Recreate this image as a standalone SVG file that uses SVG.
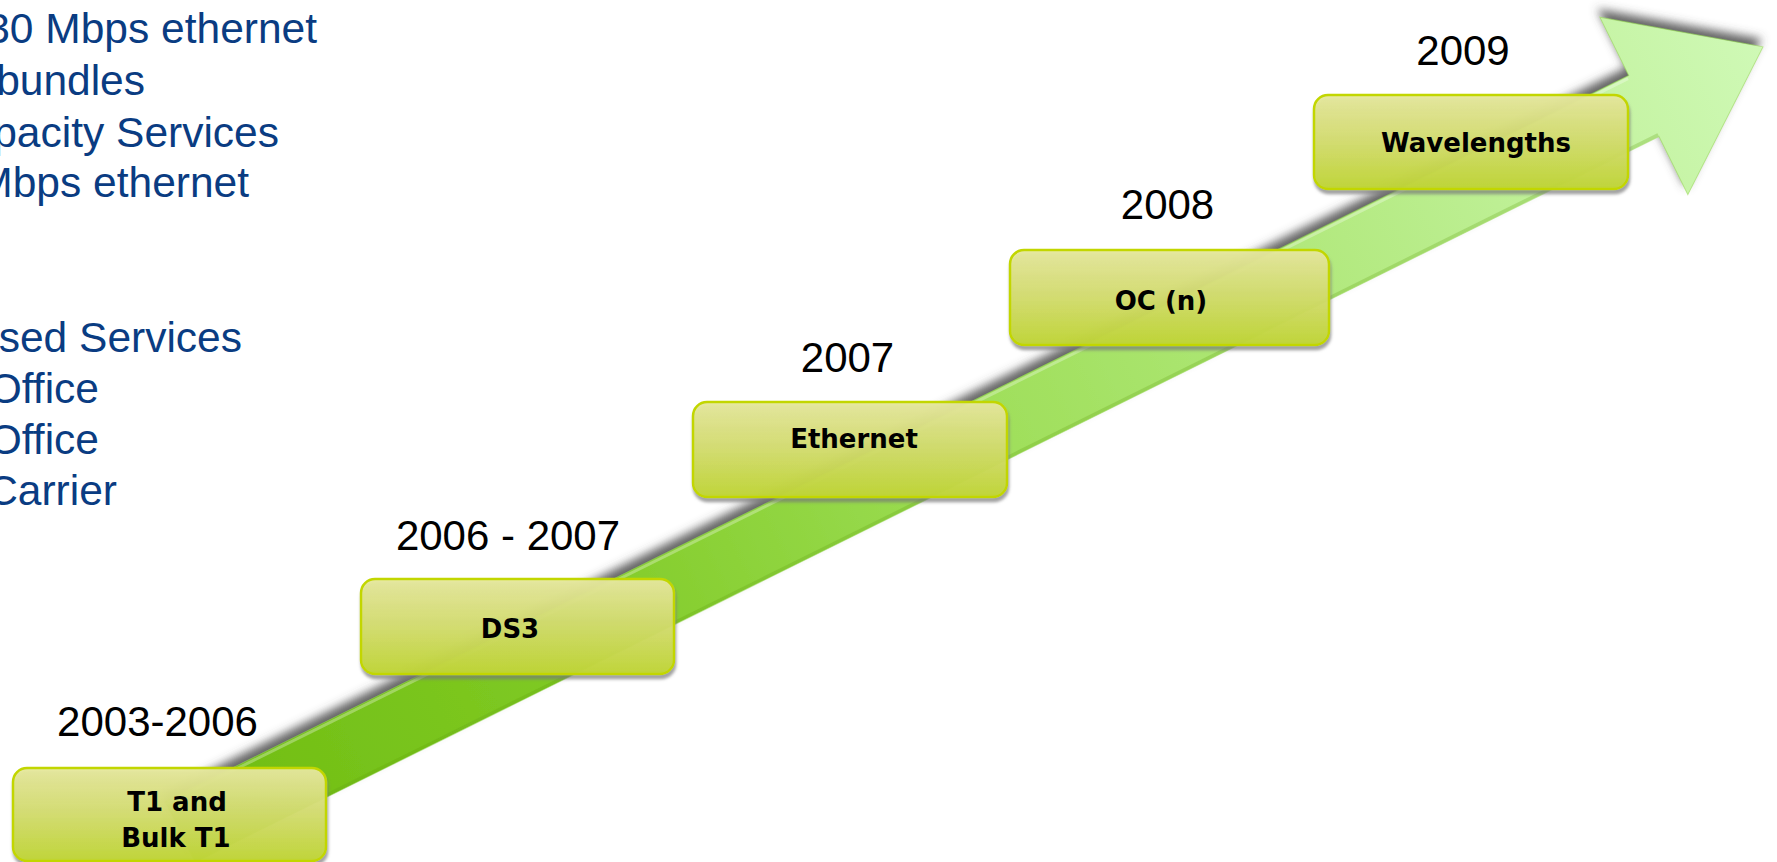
<svg xmlns="http://www.w3.org/2000/svg" width="1777" height="862" viewBox="0 0 1777 862">
<style>
.blue{font-family:"Liberation Sans",Arial,sans-serif;font-size:42.5px;fill:#0A3C82;text-anchor:end}
.year{font-family:"Liberation Sans",Arial,sans-serif;font-size:42px;fill:#000;text-anchor:middle}
.lbl{font-family:"DejaVu Sans",Verdana,sans-serif;font-weight:bold;font-size:26px;fill:#000;text-anchor:middle}
.box{fill:url(#boxg);stroke:#C2D600;stroke-width:2.5;filter:url(#bsh)}
</style>
<defs>
<linearGradient id="arrg" gradientUnits="userSpaceOnUse" x1="0" y1="0" x2="1767" y2="0">
<stop offset="0" stop-color="#6FBC12"/>
<stop offset="0.25" stop-color="#80CA24"/>
<stop offset="0.5" stop-color="#9EDE58"/>
<stop offset="0.72" stop-color="#B2E97E"/>
<stop offset="1" stop-color="#CFF9B6"/>
</linearGradient>
<linearGradient id="boxg" x1="0" y1="0" x2="0" y2="1">
<stop offset="0" stop-color="#E6E89E" stop-opacity="0.95"/>
<stop offset="0.45" stop-color="#D7E070" stop-opacity="0.9"/>
<stop offset="1" stop-color="#C0D632" stop-opacity="0.95"/>
</linearGradient>
<filter id="ash" x="-5%" y="-10%" width="110%" height="120%">
<feGaussianBlur in="SourceAlpha" stdDeviation="5"/>
<feOffset dx="-2" dy="-8" result="b"/>
<feFlood flood-color="#4A4A4A" flood-opacity="0.85"/>
<feComposite in2="b" operator="in"/>
<feMerge><feMergeNode/><feMergeNode in="SourceGraphic"/></feMerge>
</filter>
<filter id="bsh" x="-5%" y="-10%" width="110%" height="130%">
<feGaussianBlur in="SourceAlpha" stdDeviation="1.5"/>
<feOffset dx="1" dy="4" result="b"/>
<feFlood flood-color="#777" flood-opacity="0.7"/>
<feComposite in2="b" operator="in"/>
<feMerge><feMergeNode/><feMergeNode in="SourceGraphic"/></feMerge>
</filter>
</defs>
<rect width="1777" height="862" fill="#fff"/>

<g id="side-text">
<text class="blue" x="317" y="43">30 Mbps ethernet</text>
<text class="blue" x="145" y="95">bundles</text>
<text class="blue" x="279" y="147">pacity Services</text>
<text class="blue" x="249" y="197">Mbps ethernet</text>
<text class="blue" x="242" y="352">sed Services</text>
<text class="blue" x="99" y="403">Office</text>
<text class="blue" x="99" y="454">Office</text>
<text class="blue" x="117" y="505">Carrier</text>
</g>

<g id="connectors">
<g id="arrow" filter="url(#ash)">
<g transform="translate(180,832) rotate(-26.38)">
<path d="M0,-34 L1634,-34 L1634,-99 L1767,0 L1634,99 L1634,34 L0,34 Z" fill="url(#arrg)" stroke="#8FD24A" stroke-width="1" stroke-opacity="0.5"/>
<line x1="0" y1="-31.5" x2="1632" y2="-31.5" stroke="#fff" stroke-opacity="0.3" stroke-width="3"/>
<line x1="0" y1="32" x2="1634" y2="32" stroke="#5E9E10" stroke-opacity="0.25" stroke-width="3"/>
</g>
</g>
</g>

<g id="n1">
<rect class="box" x="13" y="768" width="313" height="93" rx="14"/>
<text class="lbl" x="177" y="811">T1 and</text>
<text class="lbl" x="176" y="847">Bulk T1</text>
<text class="year" x="157.5" y="736">2003-2006</text>
</g>
<g id="n2">
<rect class="box" x="361" y="579" width="313" height="95" rx="14"/>
<text class="lbl" x="510" y="638">DS3</text>
<text class="year" x="508" y="550">2006 - 2007</text>
</g>
<g id="n3">
<rect class="box" x="693" y="402" width="314" height="95" rx="14"/>
<text class="lbl" x="854" y="448">Ethernet</text>
<text class="year" x="847.5" y="372">2007</text>
</g>
<g id="n4">
<rect class="box" x="1010" y="250" width="319" height="95" rx="14"/>
<text class="lbl" x="1161" y="310">OC (n)</text>
<text class="year" x="1167.5" y="219">2008</text>
</g>
<g id="n5">
<rect class="box" x="1314" y="95" width="314" height="94" rx="14"/>
<text class="lbl" x="1476" y="152">Wavelengths</text>
<text class="year" x="1463" y="65">2009</text>
</g>
</svg>
